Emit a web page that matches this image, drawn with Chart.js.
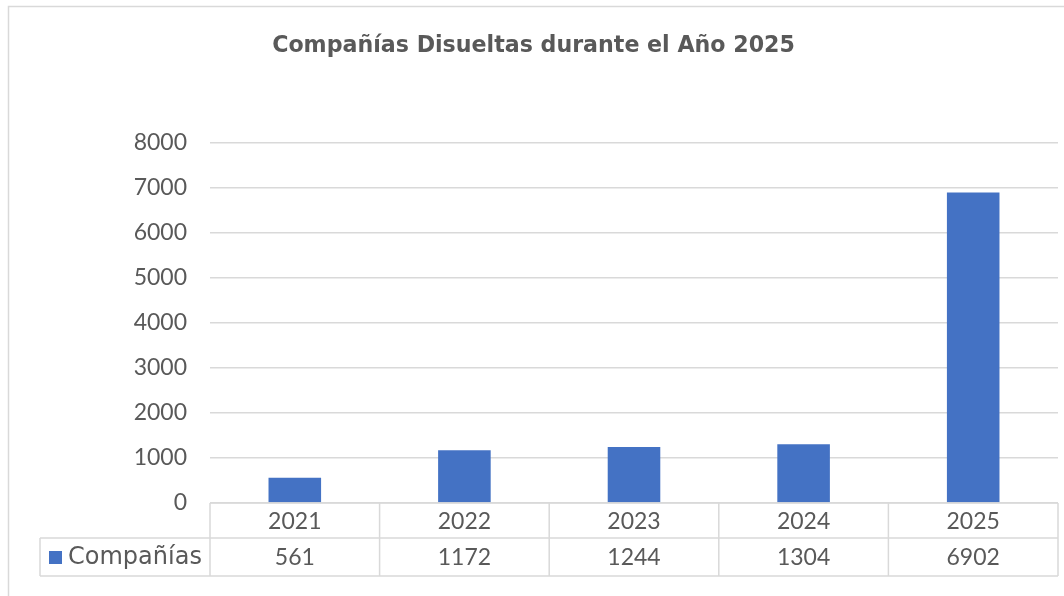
<!DOCTYPE html>
<html>
<head>
<meta charset="utf-8">
<script src="https://cdn.jsdelivr.net/npm/chart.js@4.4.1/dist/chart.umd.min.js"></script>
<style>
  html, body { margin: 0; padding: 0; background: #ffffff; }
  #wrap { width: 1064px; height: 596px; position: relative; }
</style>
</head>
<body>
<div id="wrap"><canvas id="c" width="1064" height="596"></canvas></div>
<script>
const titleText = 'Compañías Disueltas durante el Año 2025';
const categories = ['2021', '2022', '2023', '2024', '2025'];
const seriesName = 'Compañías';
const values = [561, 1172, 1244, 1304, 6902];
const yTicks = [0, 1000, 2000, 3000, 4000, 5000, 6000, 7000, 8000];

const TEXT = '#595959';
const LINE = '#d9d9d9';
const BAR = '#4472C4';
const FONT = 'Lato, "Open Sans", sans-serif';
const WIDE = '"DejaVu Sans", sans-serif';

function fitFont(ctx, text, weight, family, targetW) {
  ctx.font = weight + ' 100px ' + family;
  const w = ctx.measureText(text).width;
  return weight + ' ' + (100 * targetW / w).toFixed(2) + 'px ' + family;
}

const tablePlugin = {
  id: 'tablePlugin',
  beforeDraw(chart) {
    const ctx = chart.ctx;
    ctx.save();
    ctx.fillStyle = '#ffffff';
    ctx.fillRect(0, 0, chart.width, chart.height);
    ctx.strokeStyle = LINE;
    ctx.lineWidth = 1.5;
    ctx.strokeRect(8.5, 6.5, chart.width + 10, chart.height + 10);
    ctx.fillStyle = TEXT;
    ctx.font = fitFont(ctx, titleText, 'bold', WIDE, 523);
    ctx.textAlign = 'center';
    ctx.textBaseline = 'middle';
    ctx.fillText(titleText, 533.5, 46);
    ctx.restore();
  },
  afterDraw(chart) {
    const ctx = chart.ctx;
    const xs = chart.scales.x;
    const area = chart.chartArea;
    const n = categories.length;
    const bounds = [area.left];
    for (let i = 0; i < n - 1; i++) {
      bounds.push((xs.getPixelForValue(i) + xs.getPixelForValue(i + 1)) / 2);
    }
    bounds.push(area.right);
    const top = area.bottom;
    const mid = top + 35;
    const bot = top + 73;
    const legLeft = 40;
    ctx.save();
    ctx.strokeStyle = LINE;
    ctx.lineWidth = 1.5;
    ctx.beginPath();
    ctx.moveTo(area.left, top); ctx.lineTo(area.right, top);
    ctx.moveTo(legLeft, mid); ctx.lineTo(area.right, mid);
    ctx.moveTo(legLeft, bot); ctx.lineTo(area.right, bot);
    ctx.moveTo(legLeft, mid); ctx.lineTo(legLeft, bot);
    bounds.forEach(b => { ctx.moveTo(b, top); ctx.lineTo(b, bot); });
    ctx.stroke();
    ctx.fillStyle = TEXT;
    ctx.font = '23px ' + FONT;
    ctx.textAlign = 'center';
    ctx.textBaseline = 'middle';
    for (let i = 0; i < n; i++) {
      const cx = xs.getPixelForValue(i);
      ctx.fillText(categories[i], cx, (top + mid) / 2 + 1);
      ctx.fillText(String(values[i]), cx, (mid + bot) / 2 + 1);
    }
    ctx.fillStyle = BAR;
    ctx.fillRect(49, 551, 13, 13);
    ctx.fillStyle = TEXT;
    ctx.textAlign = 'left';
    ctx.font = fitFont(ctx, seriesName, 'normal', WIDE, 134);
    ctx.fillText(seriesName, 68, (mid + bot) / 2 + 1);
    ctx.restore();
  }
};

new Chart(document.getElementById('c'), {
  type: 'bar',
  data: {
    labels: categories,
    datasets: [{
      label: seriesName,
      data: values,
      backgroundColor: BAR,
      borderWidth: 0,
      categoryPercentage: 1.0,
      barPercentage: 0.31
    }]
  },
  options: {
    responsive: false,
    animation: false,
    devicePixelRatio: 1,
    layout: { padding: { top: 143, right: 6, bottom: 93, left: 0 } },
    plugins: {
      legend: { display: false },
      title: { display: false },
      tooltip: { enabled: false }
    },
    scales: {
      x: {
        display: false
      },
      y: {
        min: 0,
        max: 8000,
        afterFit(scale) { scale.width = 210; },
        afterBuildTicks(scale) { scale.ticks = yTicks.map(v => ({ value: v })); },
        border: { display: false },
        grid: { color: LINE, lineWidth: 1.5, drawTicks: false },
        ticks: {
          color: TEXT,
          padding: 23,
          font: { family: FONT, size: 23 },
          callback: (v) => String(v)
        }
      }
    }
  },
  plugins: [tablePlugin]
});
</script>
</body>
</html>
